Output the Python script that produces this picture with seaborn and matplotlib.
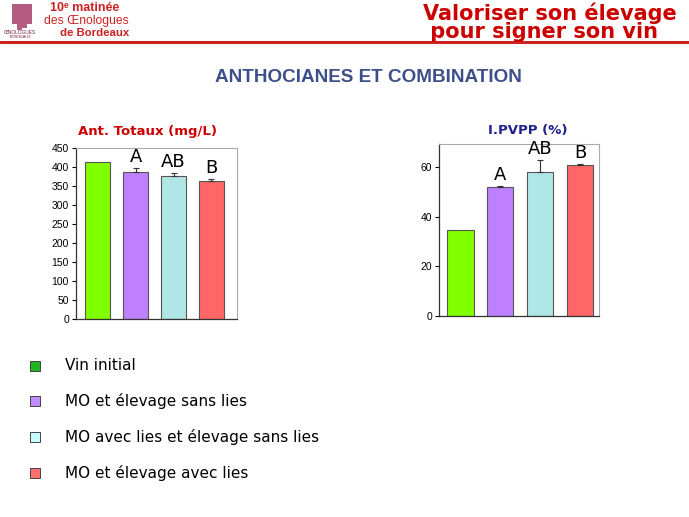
import matplotlib
matplotlib.use("Agg")
import matplotlib.pyplot as plt
import seaborn as sns
import pandas as pd
import numpy as np
from matplotlib.patches import Rectangle

# ---- data ----
categories = ["Vin initial", "MO et élevage sans lies",
              "MO avec lies et élevage sans lies", "MO et élevage avec lies"]
ant_totaux = [413, 388, 376, 363]
ant_err = [0, 10, 8, 5]
ipvpp = [34.5, 52.0, 58.2, 60.8]
ipvpp_err = [0, 0.6, 4.6, 0.7]
letters_ant = ["", "A", "AB", "B"]
letters_pvpp = ["", "A", "AB", "B"]
bar_colors = ["#80ff00", "#bf80ff", "#b0e6e6", "#ff6666"]
legend_colors = ["#22b522", "#c08cff", "#c8ffff", "#ff6e6e"]
left_ticks = [0, 50, 100, 150, 200, 250, 300, 350, 400, 450]
right_ticks = [0, 20, 40, 60]

sns.set_theme(style="white")
plt.rcParams['font.family'] = ['Liberation Sans', 'DejaVu Sans']

W, H = 689, 517
fig = plt.figure(figsize=(W / 100, H / 100), dpi=100)
fig.patch.set_facecolor("white")


def fx(px):
    return px / W


def fy(py):
    return 1 - py / H


def draw_panel(rect, values, errs, letters, ylim, ticks, title, tcolor, xlim,
               title_x):
    ax = fig.add_axes(rect)
    df = pd.DataFrame({"cat": categories, "val": values})
    sns.barplot(data=df, x="cat", y="val", hue="cat", palette=bar_colors,
                order=categories, hue_order=categories, legend=False,
                saturation=1, width=0.66, edgecolor="#555555", linewidth=0.8,
                ax=ax)
    x = np.arange(len(categories))
    for xi, v, e, lab in zip(x, values, errs, letters):
        if e > 0:
            ax.errorbar(xi, v, yerr=[[0], [e]], fmt="none", ecolor="#333333",
                        elinewidth=0.8, capsize=2.5, capthick=0.8)
        if lab:
            ax.text(xi, v + e + (ylim[1] * 0.012), lab, ha="center", va="bottom",
                    fontsize=13, family=["DejaVu Sans"], color="black")
    ax.set_ylim(*ylim)
    ax.set_xlim(*xlim)
    ax.set_yticks(ticks)
    ax.set_yticklabels([str(t) for t in ticks], fontsize=7.5, color="black")
    ax.set_xticks([])
    ax.set_xlabel("")
    ax.set_ylabel("")
    ax.tick_params(axis="y", length=3, width=0.8, color="black", left=True, pad=2)
    for s in ["top", "right"]:
        ax.spines[s].set_color("#aaaaaa")
        ax.spines[s].set_linewidth(0.8)
    for s in ["left", "bottom"]:
        ax.spines[s].set_color("#333333")
        ax.spines[s].set_linewidth(0.9)
    ax.set_facecolor("white")
    fig.text(fx(title_x[0]), fy(title_x[1]), title, color=tcolor, fontsize=9.5,
             fontweight="bold", family=["DejaVu Sans"], ha="center",
             va="center")
    return ax


draw_panel([fx(76), fy(319), fx(161), (319 - 148) / H], ant_totaux, ant_err,
           letters_ant, (0, 450), left_ticks, "Ant. Totaux (mg/L)", "#cc0000",
           (-0.58, 3.68), (147, 131))
draw_panel([fx(439), fy(316), fx(160), (316 - 144) / H], ipvpp, ipvpp_err,
           letters_pvpp, (0, 69.4), right_ticks, "I.PVPP (%)", "#1f1f8f",
           (-0.54, 3.48), (528, 130))

# ---- header ----
fig.add_artist(plt.Line2D([0, 1], [fy(42), fy(42)], color="#cc2222", lw=2.2))
# logo
for lx, lh in [(12, 20), (17, 26), (22, 24), (27, 20)]:
    fig.add_artist(Rectangle((fx(lx), fy(4 + lh)), fx(5), lh / H,
                             facecolor="#a8406a", edgecolor="none", alpha=0.85))
fig.text(fx(20), fy(33), "ŒNOLOGUES", fontsize=3.5, color="#7a2040",
         ha="center", va="center")
fig.text(fx(20), fy(37), "BORDEAUX", fontsize=2.8, color="#7a2040",
         ha="center", va="center")
fig.text(fx(50), fy(8), "10ᵉ matinée", fontsize=9, color="#cc2222",
         fontweight="bold", ha="left", va="center")
fig.text(fx(44), fy(21), "des Œnologues", fontsize=8.7, color="#cc2222",
         ha="left", va="center")
fig.text(fx(60), fy(33), "de Bordeaux", fontsize=8.2, color="#cc2222",
         fontweight="bold", ha="left", va="center")
fig.text(fx(423), fy(2), "Valoriser son élevage\n pour signer son vin",
         fontsize=15, color="#cc0000", fontweight="bold", ha="left", va="top",
         linespacing=0.88, multialignment="left", family=["DejaVu Sans"])

fig.text(fx(368), fy(78), "ANTHOCIANES ET COMBINATION", fontsize=13.6,
         color="#3d4f8a", fontweight="bold", ha="center", va="center")

# ---- legend ----
leg_y = [366, 401, 437, 473]
for col, lab, yy in zip(legend_colors, categories, leg_y):
    fig.add_artist(Rectangle((fx(30), fy(yy + 5)), fx(10), 10 / H,
                             facecolor=col, edgecolor="#444444", lw=0.7))
    fig.text(fx(65), fy(yy), lab, fontsize=11, color="black", ha="left",
             va="center", family=["DejaVu Sans"])

fig.savefig("out.png", dpi=100, facecolor="white")
